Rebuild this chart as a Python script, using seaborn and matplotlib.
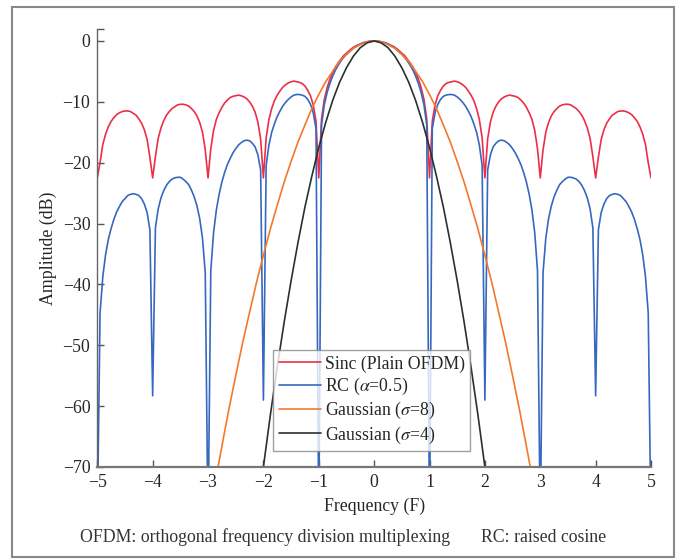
import numpy as np
import pandas as pd
import matplotlib
matplotlib.use('Agg')
import matplotlib.pyplot as plt
import seaborn as sns
from matplotlib.patches import Rectangle

# frequency grid (F) for the sinc / RC spectra, 0.05 steps from -5 to 5
freq = np.round(np.arange(-5, 5.0001, 0.05), 2)

# Sinc (plain OFDM), dB
sinc_db = [
    -22.5, -20.0, -17.0, -15.3, -14.1, -13.2, -12.6, -12.1, -11.8, -11.6,
    -11.5, -11.5, -11.6, -11.9, -12.2, -12.8, -13.5, -14.6, -16.2, -19.1,
    -22.5, -19.0, -16.0, -14.3, -13.1, -12.2, -11.6, -11.1, -10.8, -10.5,
    -10.4, -10.4, -10.5, -10.7, -11.1, -11.6, -12.3, -13.4, -15.0, -17.9,
    -22.5, -17.7, -14.7, -12.9, -11.8, -10.9, -10.2, -9.7, -9.3, -9.1,
    -9.0, -8.9, -9.0, -9.2, -9.5, -10.0, -10.7, -11.7, -13.3, -16.1,
    -22.5, -15.9, -12.9, -11.1, -9.8, -8.9, -8.2, -7.6, -7.2, -6.9,
    -6.7, -6.6, -6.7, -6.8, -7.0, -7.4, -8.1, -9.0, -10.5, -13.2,
    -22.5, -12.8, -9.6, -7.7, -6.3, -5.2, -4.3, -3.6, -3.0, -2.4,
    -2.0, -1.6, -1.2, -0.9, -0.7, -0.5, -0.3, -0.2, -0.1, -0.02,
    0.0,
    -0.02, -0.1, -0.2, -0.3, -0.5, -0.7, -0.9, -1.2, -1.6,
    -2.0, -2.4, -3.0, -3.6, -4.3, -5.2, -6.3, -7.7, -9.6, -12.8,
    -22.5, -13.2, -10.5, -9.0, -8.1, -7.4, -7.0, -6.8, -6.7, -6.6,
    -6.7, -6.9, -7.2, -7.6, -8.2, -8.9, -9.8, -11.1, -12.9, -15.9,
    -22.5, -16.1, -13.3, -11.7, -10.7, -10.0, -9.5, -9.2, -9.0, -8.9,
    -9.0, -9.1, -9.3, -9.7, -10.2, -10.9, -11.8, -12.9, -14.7, -17.7,
    -22.5, -17.9, -15.0, -13.4, -12.3, -11.6, -11.1, -10.7, -10.5, -10.4,
    -10.4, -10.5, -10.8, -11.1, -11.6, -12.2, -13.1, -14.3, -16.0, -19.0,
    -22.5, -19.1, -16.2, -14.6, -13.5, -12.8, -12.2, -11.9, -11.6, -11.5,
    -11.5, -11.6, -11.8, -12.1, -12.6, -13.2, -14.1, -15.3, -17.0, -20.0,
    -22.5,
]

# RC (alpha = 0.5), dB; nulls at +-1, +-3, +-5 run below the -70 floor
rc_db = [
    -80.0, -44.7, -38.7, -35.1, -32.6, -30.8, -29.3, -28.1, -27.2, -26.4,
    -25.9, -25.4, -25.2, -25.1, -25.2, -25.4, -25.9, -26.8, -28.2, -31.0,
    -58.3, -30.7, -27.6, -25.8, -24.6, -23.7, -23.1, -22.7, -22.5, -22.4,
    -22.4, -22.7, -23.1, -23.6, -24.5, -25.6, -27.1, -29.2, -32.4, -38.1,
    -80.0, -37.7, -31.5, -27.8, -25.2, -23.2, -21.6, -20.3, -19.3, -18.4,
    -17.7, -17.1, -16.7, -16.4, -16.3, -16.4, -16.8, -17.4, -18.7, -21.2,
    -59.0, -20.4, -17.1, -15.0, -13.6, -12.4, -11.5, -10.7, -10.1, -9.6,
    -9.2, -8.9, -8.8, -8.8, -8.9, -9.1, -9.6, -10.4, -11.8, -14.4,
    -80.0, -13.8, -10.5, -8.5, -7.0, -5.8, -4.8, -4.0, -3.3, -2.7,
    -2.2, -1.8, -1.4, -1.0, -0.8, -0.5, -0.3, -0.2, -0.1, -0.02,
    0.0,
    -0.02, -0.1, -0.2, -0.3, -0.5, -0.8, -1.0, -1.4, -1.8,
    -2.2, -2.7, -3.3, -4.0, -4.8, -5.8, -7.0, -8.5, -10.5, -13.8,
    -80.0, -14.4, -11.8, -10.4, -9.6, -9.1, -8.9, -8.8, -8.8, -8.9,
    -9.2, -9.6, -10.1, -10.7, -11.5, -12.4, -13.6, -15.0, -17.1, -20.4,
    -59.0, -21.2, -18.7, -17.4, -16.8, -16.4, -16.3, -16.4, -16.7, -17.1,
    -17.7, -18.4, -19.3, -20.3, -21.6, -23.2, -25.2, -27.8, -31.5, -37.7,
    -80.0, -38.1, -32.4, -29.2, -27.1, -25.6, -24.5, -23.6, -23.1, -22.7,
    -22.4, -22.4, -22.5, -22.7, -23.1, -23.7, -24.6, -25.8, -27.6, -30.7,
    -58.3, -31.0, -28.2, -26.8, -25.9, -25.4, -25.2, -25.1, -25.2, -25.4,
    -25.9, -26.4, -27.2, -28.1, -29.3, -30.8, -32.6, -35.1, -38.7, -44.7,
    -80.0,
]

# Gaussian (sigma = 8), dB
freq_g8 = np.round(np.arange(-3, 3.0001, 0.125), 3)
gauss8_db = [
    -79.2, -72.7, -66.6, -60.6, -55.0, -49.6, -44.6, -39.7, -35.2, -30.9,
    -27.0, -23.2, -19.8, -16.6, -13.8, -11.1, -8.8, -6.7, -5.0, -3.4,
    -2.2, -1.2, -0.6, -0.1, 0.0, -0.1, -0.6, -1.2, -2.2, -3.4,
    -5.0, -6.7, -8.8, -11.1, -13.8, -16.6, -19.8, -23.2, -27.0, -30.9,
    -35.2, -39.7, -44.6, -49.6, -55.0, -60.6, -66.6, -72.7, -79.2,
]

# Gaussian (sigma = 4), dB
freq_g4 = np.round(np.arange(-2.125, 2.1251, 0.125), 3)
gauss4_db = [
    -79.0, -70.0, -61.5, -53.6, -46.2, -39.4, -33.1, -27.3, -22.2, -17.5,
    -13.4, -9.8, -6.8, -4.4, -2.5, -1.1, -0.3, 0.0, -0.3, -1.1,
    -2.5, -4.4, -6.8, -9.8, -13.4, -17.5, -22.2, -27.3, -33.1, -39.4,
    -46.2, -53.6, -61.5, -70.0, -79.0,
]

labels = ['Sinc (Plain OFDM)', r'RC ($\alpha$=0.5)',
          r'Gaussian ($\sigma$=8)', r'Gaussian ($\sigma$=4)']
colors = ['#ec2e48', '#3668bf', '#f4782c', '#27322f']
fs = 12.8

sns.set_style('white')
plt.rcParams['font.family'] = ['Liberation Serif', 'DejaVu Serif']
plt.rcParams['mathtext.fontset'] = 'stix'
plt.rcParams['axes.unicode_minus'] = True

fig = plt.figure(figsize=(6.77, 5.59), dpi=100)
ax = fig.add_axes([0.1437, 0.1646, 0.8179, 0.7839])

series = [(freq, sinc_db), (freq, rc_db), (freq_g8, gauss8_db), (freq_g4, gauss4_db)]
for (fx, fy), lab, col in zip(series, labels, colors):
    df = pd.DataFrame({'f': fx, 'db': fy})
    sns.lineplot(data=df, x='f', y='db', ax=ax, color=col, label=lab,
                 linewidth=1.2, estimator=None, sort=False)

ax.set_xlim(-5, 5)
ax.set_ylim(-70, 2)
ax.set_xticks(range(-5, 6))
ax.set_yticks(range(-70, 1, 10))
ax.set_yticks([2], minor=True)

for side in ['top', 'right']:
    ax.spines[side].set_visible(False)
ax.spines['left'].set_color('#666666')
ax.spines['left'].set_linewidth(1.0)
ax.spines['bottom'].set_color('#777777')
ax.spines['bottom'].set_linewidth(1.6)

ax.tick_params(axis='x', direction='in', length=5, width=1, color='#555555',
               labelsize=fs, pad=5, bottom=True)
ax.tick_params(axis='y', which='both', direction='in', length=5, width=1,
               color='#555555', labelsize=fs, pad=5, left=True)
ax.tick_params(axis='y', which='minor', labelleft=False)

ax.set_xlabel('Frequency (F)', fontsize=fs, labelpad=5)
ax.set_ylabel('Amplitude (dB)', fontsize=fs, labelpad=4)

leg = ax.legend(loc='upper left', bbox_to_anchor=(0.318, 0.267), borderaxespad=0,
                fontsize=fs, frameon=True, fancybox=False, edgecolor='#888888',
                handlelength=2.4, handletextpad=0.2, labelspacing=0.18,
                borderpad=0.3)
leg.get_frame().set_linewidth(1.0)

fig.text(80 / 677, 0.039, 'OFDM: orthogonal frequency division multiplexing',
         fontsize=fs, va='center', ha='left', color='#333333')
fig.text(481 / 677, 0.039, 'RC: raised cosine',
         fontsize=fs, va='center', ha='left', color='#333333')

fig.patches.append(Rectangle((0.0173, 0.004), 0.979, 0.984, transform=fig.transFigure,
                             fill=False, edgecolor='#888888', linewidth=1.5))

fig.savefig('out.png', dpi=100)
